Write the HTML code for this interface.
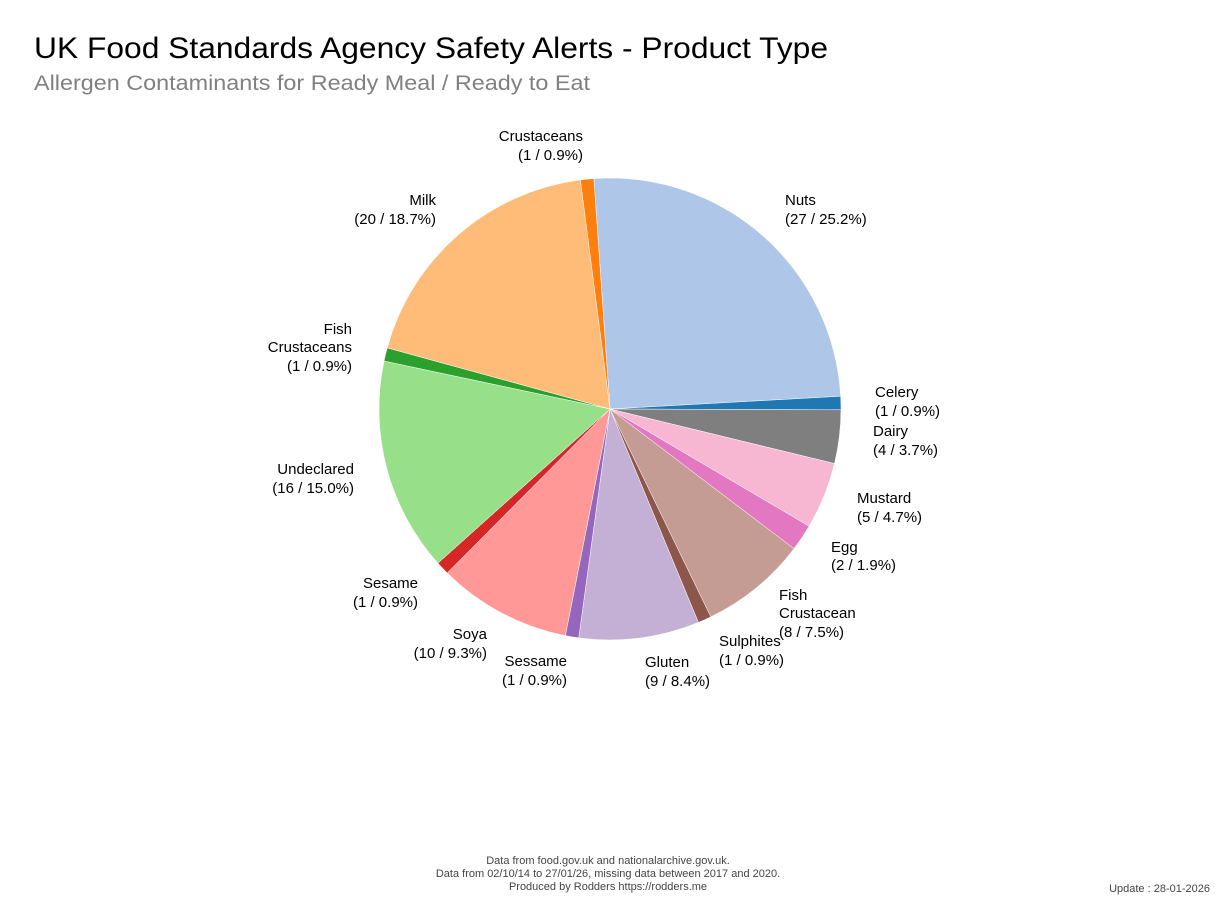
<!DOCTYPE html>
<html><head><meta charset="utf-8"><style>
body{margin:0;width:1220px;height:905px;background:#fff;overflow:hidden;font-family:"Liberation Sans",sans-serif;}
svg text{font-family:"Liberation Sans",sans-serif;}
</style></head><body>
<svg id="s" width="1220" height="905" xmlns="http://www.w3.org/2000/svg">
<text x="34" y="58" font-size="30" fill="#000" textLength="794" lengthAdjust="spacingAndGlyphs">UK Food Standards Agency Safety Alerts - Product Type</text>
<text x="34" y="90" font-size="21" fill="#808080" textLength="556" lengthAdjust="spacingAndGlyphs">Allergen Contaminants for Ready Meal / Ready to Eat</text>
<g id="pie"></g>
<g font-size="15" fill="#000">
<text x="583" y="141" text-anchor="end">Crustaceans</text><text x="583" y="160" text-anchor="end">(1 / 0.9%)</text>
<text x="785" y="205">Nuts</text><text x="785" y="224">(27 / 25.2%)</text>
<text x="436" y="205" text-anchor="end">Milk</text><text x="436" y="224" text-anchor="end">(20 / 18.7%)</text>
<text x="352" y="334" text-anchor="end">Fish</text><text x="352" y="352" text-anchor="end">Crustaceans</text><text x="352" y="371" text-anchor="end">(1 / 0.9%)</text>
<text x="875" y="397">Celery</text><text x="875" y="416">(1 / 0.9%)</text>
<text x="873" y="436">Dairy</text><text x="873" y="455">(4 / 3.7%)</text>
<text x="354" y="474" text-anchor="end">Undeclared</text><text x="354" y="493" text-anchor="end">(16 / 15.0%)</text>
<text x="857" y="503">Mustard</text><text x="857" y="522">(5 / 4.7%)</text>
<text x="831" y="552">Egg</text><text x="831" y="570">(2 / 1.9%)</text>
<text x="418" y="588" text-anchor="end">Sesame</text><text x="418" y="607" text-anchor="end">(1 / 0.9%)</text>
<text x="779" y="600">Fish</text><text x="779" y="618">Crustacean</text><text x="779" y="637">(8 / 7.5%)</text>
<text x="487" y="639" text-anchor="end">Soya</text><text x="487" y="658" text-anchor="end">(10 / 9.3%)</text>
<text x="719" y="646">Sulphites</text><text x="719" y="665">(1 / 0.9%)</text>
<text x="567" y="666" text-anchor="end">Sessame</text><text x="567" y="685" text-anchor="end">(1 / 0.9%)</text>
<text x="645" y="667">Gluten</text><text x="645" y="686">(9 / 8.4%)</text>
</g>
<g font-size="11" fill="#444" text-anchor="middle">
<text x="608" y="864">Data from food.gov.uk and nationalarchive.gov.uk.</text>
<text x="608" y="877">Data from 02/10/14 to 27/01/26, missing data between 2017 and 2020.</text>
<text x="608" y="890">Produced by Rodders https://rodders.me</text>
<text x="1210" y="892" text-anchor="end">Update : 28-01-2026</text>
</g>
</svg>
<script>
var d=[[27,"#aec7e8"],[1,"#1f77b4"],[4,"#7f7f7f"],[5,"#f7b6d2"],[2,"#e377c2"],[8,"#c49c94"],[1,"#8c564b"],[9,"#c5b0d5"],[1,"#9467bd"],[10,"#ff9896"],[1,"#d62728"],[16,"#98df8a"],[1,"#2ca02c"],[20,"#ffbb78"],[1,"#ff7f0e"]];
var cx=610,cy=409,r=231,a=-4*Math.PI/180,h="";
d.forEach(function(e){var b=a+e[0]/107*2*Math.PI;
var x1=cx+r*Math.sin(a),y1=cy-r*Math.cos(a),x2=cx+r*Math.sin(b),y2=cy-r*Math.cos(b);
h+='<path d="M'+cx+','+cy+'L'+x1+','+y1+'A'+r+','+r+' 0 '+((b-a)>Math.PI?1:0)+' 1 '+x2+','+y2+'Z" fill="'+e[1]+'" stroke="#fff" stroke-width="0.5"/>';a=b;});
document.getElementById("pie").innerHTML=h;
</script>
</body></html>
